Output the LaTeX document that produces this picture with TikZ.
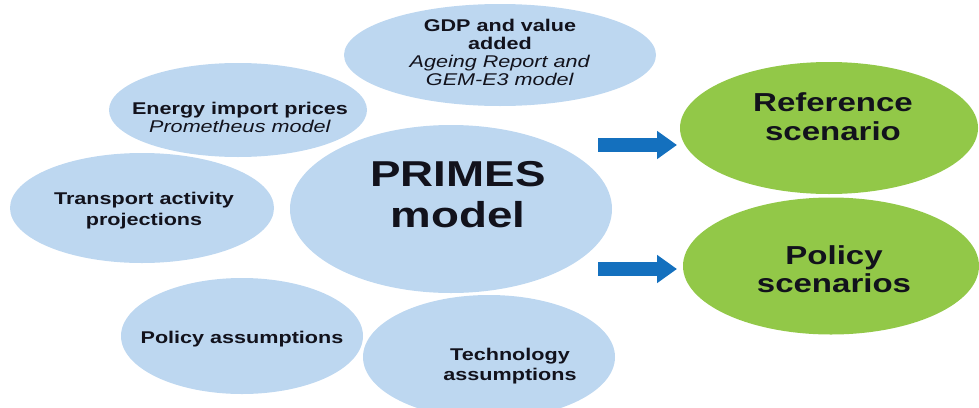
\documentclass[tikz,border=0pt]{standalone}
\usepackage{fontspec}
\setmainfont{Liberation Sans}[FakeStretch=1.27]
\usetikzlibrary{shapes.geometric,arrows.meta}
\definecolor{lblue}{RGB}{189,215,240}
\definecolor{lgreen}{RGB}{146,200,72}
\definecolor{ablue}{RGB}{20,112,190}
\definecolor{ink}{RGB}{18,18,28}
\tikzset{
  inbubble/.style={ellipse,fill=lblue,draw=none,inner sep=0pt},
  outbubble/.style={ellipse,fill=lgreen,draw=none,inner sep=0pt},
  smalltext/.style={text=ink,align=center,inner sep=0pt,font=\fontsize{17}{18}\selectfont},
  bigtext/.style={text=ink,align=center,inner sep=0pt,font=\fontsize{36}{41}\selectfont\bfseries},
  greentext/.style={text=ink,align=center,inner sep=0pt,font=\fontsize{26}{28.5}\selectfont\bfseries},
  flowarrow/.style={draw=ablue,line width=14pt,-{Triangle[width=27pt,length=20pt]}}
}
\begin{document}
\begin{tikzpicture}[x=1pt,y=-1pt]
\useasboundingbox (0,0) rectangle (979,407);
% input bubbles
\node[inbubble,minimum width=312pt,minimum height=102pt] (gdp) at (500,55) {};
\node[inbubble,minimum width=258pt,minimum height=94pt] (energy) at (238,110) {};
\node[inbubble,minimum width=264pt,minimum height=110pt] (transport) at (142,208) {};
\node[inbubble,minimum width=322pt,minimum height=168pt] (primes) at (451,209) {};
\node[inbubble,minimum width=242pt,minimum height=116pt] (policy) at (242,336) {};
\node[inbubble,minimum width=252pt,minimum height=124pt] (tech) at (489,357) {};
% output bubbles
\node[outbubble,minimum width=298pt,minimum height=132pt] (ref) at (829,128) {};
\node[outbubble,minimum width=296pt,minimum height=137pt] (pol) at (831,266) {};
% texts
\node[smalltext] (gdpt) at (500,52.5) {\textbf{GDP and value}\\\textbf{added}\\\textit{Ageing Report and}\\\textit{GEM-E3 model}};
\node[smalltext] (energyt) at (240,117) {\textbf{Energy import prices}\\\textit{Prometheus model}};
\node[smalltext,font=\fontsize{17}{21}\selectfont\bfseries] (transportt) at (144,211) {Transport activity\\projections};
\node[smalltext,font=\fontsize{17}{18}\selectfont\bfseries] (policyt) at (242,338.6) {Policy assumptions};
\node[smalltext,font=\fontsize{17}{20}\selectfont\bfseries] (techt) at (510,365.6) {Technology\\assumptions};
\node[bigtext] (primest) at (458,194.3) {PRIMES\\model};
\node[greentext] (reft) at (833,116.5) {Reference\\scenario};
\node[greentext] (polt) at (834,269) {Policy\\scenarios};
% arrows
\coordinate (a1s) at (598,145);
\coordinate (a1e) at (677,145);
\coordinate (a2s) at (598,269);
\coordinate (a2e) at (677,269);
\draw[flowarrow] (a1s) -- (a1e);
\draw[flowarrow] (a2s) -- (a2e);
\end{tikzpicture}
\end{document}
